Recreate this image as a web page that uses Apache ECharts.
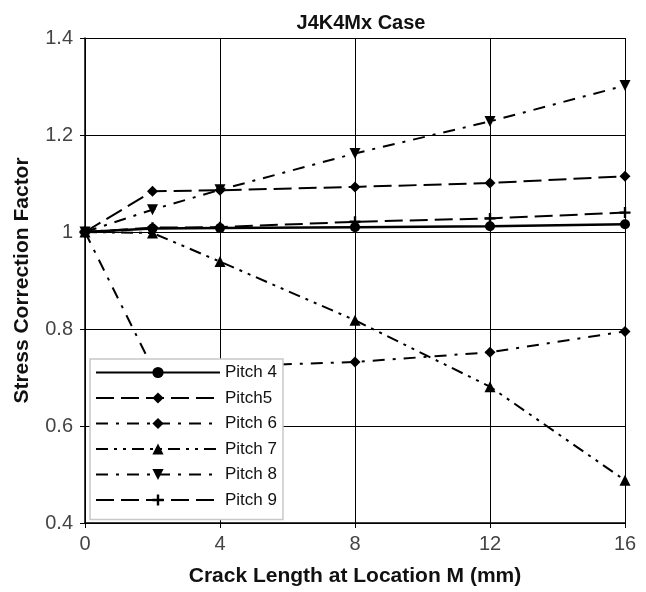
<!DOCTYPE html>
<html>
<head>
<meta charset="utf-8">
<script src="https://cdn.jsdelivr.net/npm/echarts@6/dist/echarts.min.js"></script>
<style>
  html, body { margin: 0; padding: 0; background: #fff; }
  #chart { width: 646px; height: 592px; }
</style>
</head>
<body>
<div id="chart"></div>
<script>
// Crack length at location M (mm)
const crackLength = [0, 2, 4, 8, 12, 16];

// Stress correction factor per pitch
const pitch4 = [1.0, 1.007, 1.008, 1.010, 1.012, 1.016];
const pitch5 = [1.0, 1.084, 1.086, 1.093, 1.101, 1.115];
const pitch6 = [1.0, 0.720, 0.723, 0.732, 0.752, 0.795];
const pitch7 = [1.0, 0.998, 0.939, 0.818, 0.681, 0.488];
const pitch8 = [1.0, 1.046, 1.087, 1.162, 1.228, 1.302];
const pitch9 = [1.0, 1.009, 1.010, 1.021, 1.028, 1.040];

const seriesNames = ['Pitch 4', 'Pitch5', 'Pitch 6', 'Pitch 7', 'Pitch 8', 'Pitch 9'];

const plusPath = 'path://M-1.3,-6 L1.3,-6 L1.3,-1.3 L6,-1.3 L6,1.3 L1.3,1.3 L1.3,6 L-1.3,6 L-1.3,1.3 L-6,1.3 L-6,-1.3 L-1.3,-1.3 Z';
const diamondPath = 'path://M0,-6 L6,0 L0,6 L-6,0 Z';

const styles = [
  { data: pitch4, symbol: 'circle', size: 10, dash: 'solid', width: 2.5 },
  { data: pitch5, symbol: diamondPath, size: 11, dash: [18, 7], width: 2 },
  { data: pitch6, symbol: diamondPath, size: 11, dash: [12, 8, 3, 8], width: 2 },
  { data: pitch7, symbol: 'triangle', size: 11, dash: [12, 6, 3, 6, 3, 6], width: 2 },
  { data: pitch8, symbol: 'path://M-6,-5 L6,-5 L0,6 Z', size: 11, dash: [12, 8, 3, 8], width: 2 },
  { data: pitch9, symbol: plusPath, size: 11, dash: [18, 7], width: 2 }
];

const fontFamily = '"Liberation Sans", Arial, sans-serif';

const series = styles.map((s, i) => ({
  name: seriesNames[i],
  type: 'line',
  data: crackLength.map((x, j) => [x, s.data[j]]),
  symbol: s.symbol,
  symbolSize: s.size,
  showAllSymbol: true,
  itemStyle: { color: '#000' },
  lineStyle: { color: '#000', width: s.width, type: s.dash },
  emphasis: { disabled: true },
  animation: false,
  z: 10 - i
}));

const chart = echarts.init(document.getElementById('chart'), null, { renderer: 'canvas' });
chart.setOption({
  backgroundColor: '#fff',
  animation: false,
  title: {
    text: 'J4K4Mx Case',
    left: 356, top: 8, textAlign: 'center',
    textStyle: { fontFamily, fontSize: 20, fontWeight: 'bold', color: '#111' }
  },
  grid: { left: 85, right: 21, top: 38, bottom: 66, containLabel: false },
  legend: {
    data: seriesNames,
    orient: 'vertical',
    left: 90, top: 359,
    z: 30,
    padding: [5, 6, 11, 5],
    itemWidth: 124, itemHeight: 14, itemGap: 8.5,
    backgroundColor: '#fff',
    borderColor: '#c8c8c8', borderWidth: 1.5,
    textStyle: { fontFamily, fontSize: 17, color: '#111' },
    selectedMode: false
  },
  xAxis: {
    type: 'value', min: 0, max: 16, interval: 4,
    name: 'Crack Length at Location M (mm)',
    nameLocation: 'middle', nameGap: 43,
    nameTextStyle: { fontFamily, fontSize: 21, fontWeight: 'bold', color: '#111' },
    axisLine: { show: true, lineStyle: { color: '#000', width: 1.5 } },
    axisTick: { show: true, inside: false, length: 5, lineStyle: { color: '#000' } },
    axisLabel: { fontFamily, fontSize: 20, color: '#444', margin: 11 },
    splitLine: { show: true, lineStyle: { color: '#000', width: 1 } }
  },
  yAxis: {
    type: 'value', min: 0.4, max: 1.4, interval: 0.2,
    name: 'Stress Correction Factor',
    nameLocation: 'middle', nameGap: 52,
    nameTextStyle: { fontFamily, fontSize: 21, fontWeight: 'bold', color: '#111' },
    axisLine: { show: true, lineStyle: { color: '#000', width: 1.5 } },
    axisTick: { show: true, inside: false, length: 5, lineStyle: { color: '#000' } },
    axisLabel: { fontFamily, fontSize: 20, color: '#444', margin: 12 },
    splitLine: { show: true, lineStyle: { color: '#000', width: 1 } }
  },
  series: series
});
</script>
</body>
</html>
